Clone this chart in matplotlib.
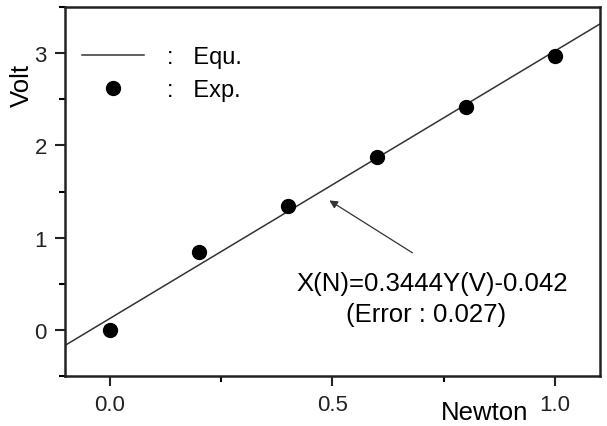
import matplotlib
matplotlib.use('Agg')
import matplotlib.pyplot as plt
import numpy as np
from matplotlib.ticker import MultipleLocator

plt.rcParams['font.family'] = ['Liberation Sans', 'DejaVu Sans']

# measured points
newton = [0.0, 0.2, 0.4, 0.6, 0.8, 1.0]
volt = [0.0, 0.84, 1.34, 1.88, 2.42, 2.97]

# fitted equation X(N) = a*Y(V) + b
fit_a = 0.3444
fit_b = -0.042
fit_err = 0.027

xlim = (-0.1, 1.1)
ylim = (-0.5, 3.5)

fig = plt.figure(figsize=(6.07, 4.27), dpi=100)
ax = fig.add_axes([0.107, 0.117, 0.881, 0.864])

xs = np.array(xlim)
ax.plot(xs, (xs - fit_b) / fit_a, color='#333333', lw=1.1, label=':   Equ.')
ax.plot(newton, volt, 'o', color='black', ms=10, ls='none', label=':   Exp.')

ax.set_xlim(*xlim)
ax.set_ylim(*ylim)

ax.xaxis.set_major_locator(MultipleLocator(0.5))
ax.xaxis.set_minor_locator(MultipleLocator(0.25))
ax.yaxis.set_major_locator(MultipleLocator(1))
ax.yaxis.set_minor_locator(MultipleLocator(0.5))
ax.xaxis.set_major_formatter(matplotlib.ticker.FormatStrFormatter('%.1f'))

ax.tick_params(which='major', direction='out', length=7, width=1.5, labelsize=16, pad=6, colors='#222222')
ax.tick_params(which='minor', direction='out', length=4, width=1.5)
for s in ax.spines.values():
    s.set_linewidth(1.8)
    s.set_color('#222222')

ax.set_xlabel('Newton', fontsize=18.5)
ax.xaxis.set_label_coords(0.785, -0.066)
ax.set_ylabel('Volt', fontsize=18.5)
ax.yaxis.set_label_coords(-0.058, 0.79)

ax.legend(loc='upper left', bbox_to_anchor=(-0.012, 0.958), frameon=False, fontsize=17,
          handlelength=2.6, handletextpad=1.0, labelspacing=0.45, borderaxespad=0.6)

ax.annotate('', xy=(0.488, 1.42), xytext=(0.685, 0.82),
            arrowprops=dict(arrowstyle='-|>', color='#333333', lw=0.9, mutation_scale=12))
ax.text(0.725, 0.51, 'X(N)=%.4fY(V)%.3f' % (fit_a, fit_b), fontsize=18.5, ha='center', va='center')
ax.text(0.71, 0.17, '(Error : %.3f)' % fit_err, fontsize=18.5, ha='center', va='center')

fig.savefig('out.png', dpi=100)
